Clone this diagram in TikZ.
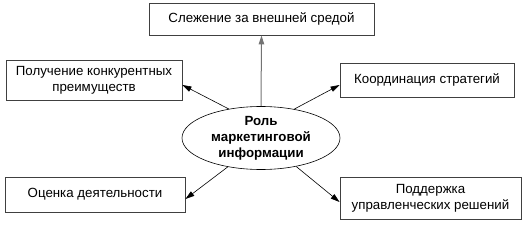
\documentclass[tikz,border=0pt]{standalone}
\usepackage{fontspec}
\setmainfont{Liberation Sans}
\usetikzlibrary{arrows.meta,shapes.geometric}
\begin{document}
\begin{tikzpicture}[x=1pt,y=-1pt,
  box/.style={draw=black!75,line width=0.9pt,rectangle,inner sep=0pt,align=center,
    font=\fontsize{13.3pt}{16pt}\selectfont},
  arr/.style={line width=0.6pt,-{Triangle[length=9pt,width=5.5pt]}},
  ]
\useasboundingbox (0,0) rectangle (528,225);
\node[box,minimum width=225pt,minimum height=32pt] (top) at (261.5,19) {Слежение за внешней средой};
\node[box,minimum width=176pt,minimum height=40pt] (lt) at (94,80) {Получение конкурентных\\преимуществ};
\node[box,minimum width=174pt,minimum height=34pt] (rt) at (427,80) {Координация стратегий};
\node[box,minimum width=180pt,minimum height=35pt] (lb) at (95,194.5) {Оценка деятельности};
\node[box,minimum width=181pt,minimum height=42pt] (rb) at (430.5,198) {Поддержка\\управленческих решений};
\node[ellipse,draw=black,line width=0.6pt,minimum width=158pt,minimum height=63pt,inner sep=0pt,
  align=center,font=\fontsize{13.3pt}{16pt}\selectfont\bfseries] (ell) at (261,138)
  {Роль\\маркетинговой\\информации};
\draw[arr,black!55,line width=1pt] (ell.north) -- (top.south);
\draw[arr] (ell.138) -- ([yshift=-5pt]lt.east);
\draw[arr] (ell.41) -- ([yshift=-5pt]rt.west);
\draw[arr] (ell.221) -- ([yshift=-4.5pt]lb.east);
\draw[arr] (ell.-39) -- ([yshift=-4pt]rb.west);
\end{tikzpicture}
\end{document}
